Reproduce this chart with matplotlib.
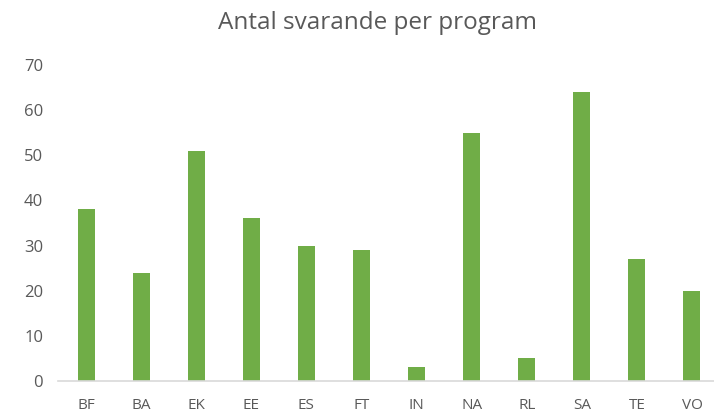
import matplotlib
matplotlib.use('Agg')
import matplotlib.pyplot as plt

plt.rcParams['font.family'] = ['Open Sans', 'DejaVu Sans']

programs = ['BF', 'BA', 'EK', 'EE', 'ES', 'FT', 'IN', 'NA', 'RL', 'SA', 'TE', 'VO']
svarande = [38, 24, 51, 36, 30, 29, 3, 55, 5, 64, 27, 20]

bar_color = '#70AD47'
text_color = '#595959'

fig = plt.figure(figsize=(7.14, 4.13), dpi=100)
ax = fig.add_axes([58.5 / 714, 32 / 413, 661 / 714, 316 / 413])

x = range(len(programs))
ax.bar(x, svarande, width=0.31, color=bar_color)

ax.set_xlim(-0.5, 11.5)
ax.set_ylim(0, 70)
ax.set_yticks(range(0, 71, 10))
ax.set_xticks(list(x))
ax.set_xticklabels(programs)

for side in ['top', 'right', 'left']:
    ax.spines[side].set_visible(False)
ax.spines['bottom'].set_color('#D9D9D9')
ax.spines['bottom'].set_linewidth(1.2)

ax.tick_params(axis='both', length=0, colors=text_color)
ax.tick_params(axis='y', pad=11, labelsize=12)
ax.tick_params(axis='x', pad=12, labelsize=11)

# title sits a bit right of figure centre in the original
fig.text(377.5 / 714, 1 - 23 / 413, 'Antal svarande per program', ha='center', va='center',
         fontsize=17.5, color=text_color)

fig.savefig('out.png', dpi=100)
